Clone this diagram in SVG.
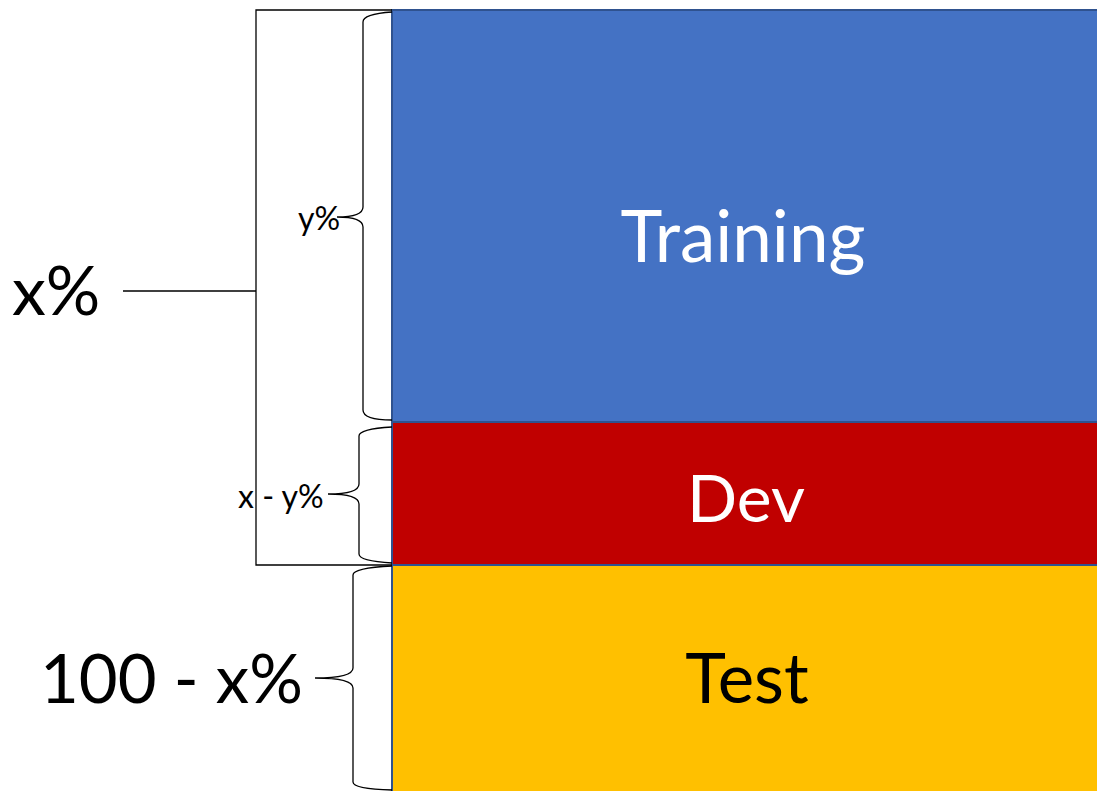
<svg xmlns="http://www.w3.org/2000/svg" width="1097" height="791" viewBox="0 0 1097 791">
<style>
.br{fill:none;stroke:#000;stroke-width:1.3}
.lbl{font-family:Lato,"Liberation Sans",sans-serif}
.small{font-size:32px}
</style>
<rect width="1097" height="791" fill="#fff"/>
<g id="training"><rect x="392" y="10" width="710" height="412" fill="#4472C4" stroke="#2F528F" stroke-width="2"/><text class="lbl" x="743" y="262" font-size="71" fill="#fff" text-anchor="middle">Training</text></g>
<g id="dev"><rect x="392" y="422" width="710" height="143" fill="#C00000" stroke="#2F528F" stroke-width="2"/><text class="lbl" x="746" y="522" font-size="66" fill="#fff" text-anchor="middle">Dev</text></g>
<g id="test"><rect x="392" y="565" width="710" height="230" fill="#FFC000" stroke="#2F528F" stroke-width="2"/><text class="lbl" x="747" y="703" font-size="69" fill="#000" text-anchor="middle">Test</text></g>
<g id="connectors">
<path class="br" d="M392,10 H256 V565 H392 M123,291 H256"/>
<path class="br" d="M392,12 Q363,14 363,22 V207 Q363,217 337,217 Q363,217 363,227 V410 Q363,420 392,420"/>
<path class="br" d="M392,427 Q359,429 359,436 V484 Q359,494 328,494 Q359,494 359,504 V554 Q359,561 392,563"/>
<path class="br" d="M392,566 Q353,568 353,575 V668 Q353,678 315,678 Q353,678 353,688 V782 Q353,789 392,790"/>
</g>
<g id="labels">
<text class="lbl" x="12" y="315" font-size="68">x%</text>
<text class="lbl" x="40" y="703" font-size="67">100 - x%</text>
<text class="lbl small" x="298" y="230">y%</text>
<text class="lbl small" x="238" y="508">x - y%</text>
</g>
</svg>
